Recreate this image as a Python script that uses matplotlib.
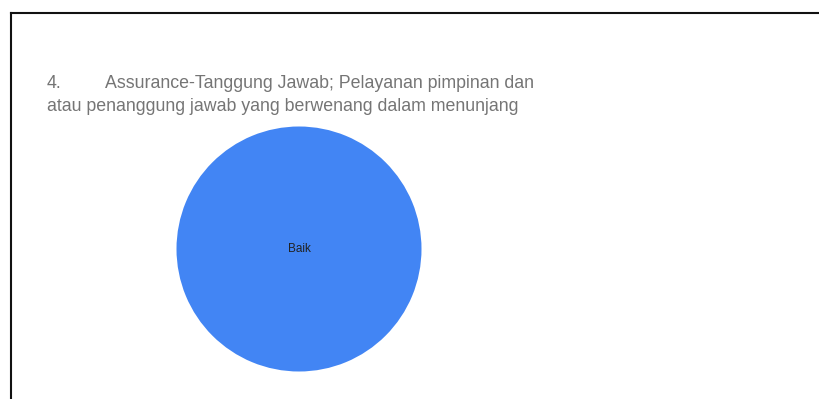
import matplotlib.pyplot as plt
from matplotlib.lines import Line2D

plt.rcParams['font.family'] = ['Liberation Sans', 'DejaVu Sans']

labels = ["Baik"]
values = [100]
colors = ["#4285f4"]

title_num = "4."
title_line1 = "Assurance-Tanggung Jawab; Pelayanan pimpinan dan"
title_line2 = "atau penanggung jawab yang berwenang dalam menunjang"

W, H = 819, 399
fig = plt.figure(figsize=(W / 100, H / 100), dpi=100)
fig.patch.set_facecolor("white")

# frame: top and left edges only
fig.add_artist(Line2D([10.5 / W, 1], [1 - 12.5 / H, 1 - 12.5 / H], color="#111111", lw=1.5))
fig.add_artist(Line2D([10.5 / W, 10.5 / W], [0, 1 - 12.5 / H], color="#111111", lw=1.5))

tc = "#757575"
fs = 12.8
fig.text(47 / W, 1 - 88 / H, title_num, fontsize=fs, color=tc, va="baseline")
fig.text(105 / W, 1 - 88 / H, title_line1, fontsize=fs, color=tc, va="baseline")
fig.text(47 / W, 1 - 111 / H, title_line2, fontsize=fs, color=tc, va="baseline")

cx, cy, r = 299, 249, 122.5
ax = fig.add_axes([(cx - r) / W, 1 - (cy + r) / H, 2 * r / W, 2 * r / H])
ax.pie(values, colors=colors, startangle=90, counterclock=False,
       wedgeprops=dict(linewidth=0))
ax.set_xlim(-1, 1)
ax.set_ylim(-1, 1)
ax.set_aspect("auto")
ax.axis("off")
ax.text(0, 0, labels[0], ha="center", va="center", fontsize=8.5, color="#222222")

fig.savefig("out.png", dpi=100, facecolor="white")
